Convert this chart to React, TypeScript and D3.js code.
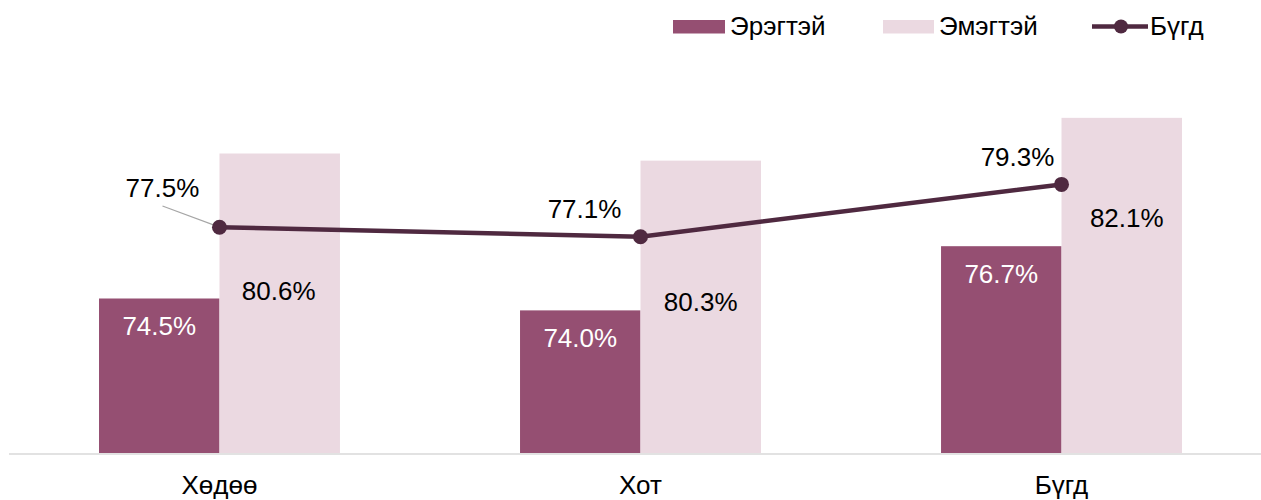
import React from "react";
import * as d3 from "d3";

const categories = ["Хөдөө", "Хот", "Бүгд"];
const seriesNames = ["Эрэгтэй", "Эмэгтэй", "Бүгд"];
const maleValues = [74.5, 74.0, 76.7];
const femaleValues = [80.6, 80.3, 82.1];
const totalValues = [77.5, 77.1, 79.3];

// annotation nudges (label placement, px)
const femaleLabelDy = [147, 150, 109];
const femaleLabelDx = [-1, 0, 5];
const totalLabelDx = [-57, -56, -44];
const totalLabelDy = [-30, -19, -18];

const W = 1261;
const H = 500;
const MALE = "#954F72";
const FEMALE = "#EBD9E1";
const LINE = "#4F2940";
const FONT = "'Liberation Sans', Arial, sans-serif";

export default function App() {
  const x = d3
    .scaleBand<string>()
    .domain(categories)
    .range([9, 1272])
    .paddingInner(0.4277)
    .paddingOuter(0.2138);
  const sub = d3
    .scaleBand<string>()
    .domain(["m", "f"])
    .range([0, x.bandwidth()]);
  const y = d3.scaleLinear().domain([68, 84]).range([453, 453 - 16 * 23.77]);
  const cx = (c: string) => (x(c) as number) + x.bandwidth() / 2;
  const line = d3
    .line<number>()
    .x((_, i) => cx(categories[i]))
    .y((v) => y(v));
  const fmt = (v: number) => v.toFixed(1) + "%";

  return (
    <svg
      width={W}
      height={H}
      style={{ position: "absolute", left: 0, top: 0, fontFamily: FONT }}
    >
      <rect width={W} height={H} fill="#fff" />
      {categories.map((c, i) => (
        <g key={c}>
          <rect
            x={(x(c) as number) + (sub("m") as number)}
            y={y(maleValues[i])}
            width={sub.bandwidth()}
            height={y(68) - y(maleValues[i])}
            fill={MALE}
          />
          <rect
            x={(x(c) as number) + (sub("f") as number)}
            y={y(femaleValues[i])}
            width={sub.bandwidth()}
            height={y(68) - y(femaleValues[i])}
            fill={FEMALE}
          />
          <text
            x={(x(c) as number) + (sub("m") as number) + sub.bandwidth() / 2}
            y={y(maleValues[i]) + 37}
            textAnchor="middle"
            fontSize={26}
            fill="#fff"
          >
            {fmt(maleValues[i])}
          </text>
          <text
            x={(x(c) as number) + (sub("f") as number) + sub.bandwidth() / 2 + femaleLabelDx[i]}
            y={y(femaleValues[i]) + femaleLabelDy[i]}
            textAnchor="middle"
            fontSize={26}
            fill="#000"
          >
            {fmt(femaleValues[i])}
          </text>
          <text
            x={cx(c)}
            y={494}
            textAnchor="middle"
            fontSize={26}
            fill="#000"
          >
            {c}
          </text>
        </g>
      ))}
      <line x1={9} x2={W} y1={454} y2={454} stroke="#D9D9D9" strokeWidth={1.5} />
      <line
        x1={cx(categories[0]) - 57}
        y1={206}
        x2={cx(categories[0])}
        y2={y(totalValues[0])}
        stroke="#A6A6A6"
        strokeWidth={1.2}
      />
      <path d={line(totalValues) || ""} fill="none" stroke={LINE} strokeWidth={4.5} />
      {totalValues.map((v, i) => (
        <g key={i}>
          <circle cx={cx(categories[i])} cy={y(v)} r={7.5} fill={LINE} />
          <text
            x={cx(categories[i]) + totalLabelDx[i]}
            y={y(v) + totalLabelDy[i]}
            textAnchor="middle"
            fontSize={26}
            fill="#000"
          >
            {fmt(v)}
          </text>
        </g>
      ))}
      {/* legend */}
      <g>
        <rect x={673} y={20} width={52} height={13.5} fill={MALE} />
        <text x={730} y={34.5} fontSize={26} fill="#000">{seriesNames[0]}</text>
        <rect x={883} y={20} width={51} height={13.5} fill={FEMALE} />
        <text x={939} y={34.5} fontSize={26} fill="#000">{seriesNames[1]}</text>
        <line x1={1092} x2={1148} y1={26.5} y2={26.5} stroke={LINE} strokeWidth={4.5} />
        <circle cx={1121} cy={26.5} r={7} fill={LINE} />
        <text x={1150} y={34.5} fontSize={26} fill="#000">{seriesNames[2]}</text>
      </g>
    </svg>
  );
}
